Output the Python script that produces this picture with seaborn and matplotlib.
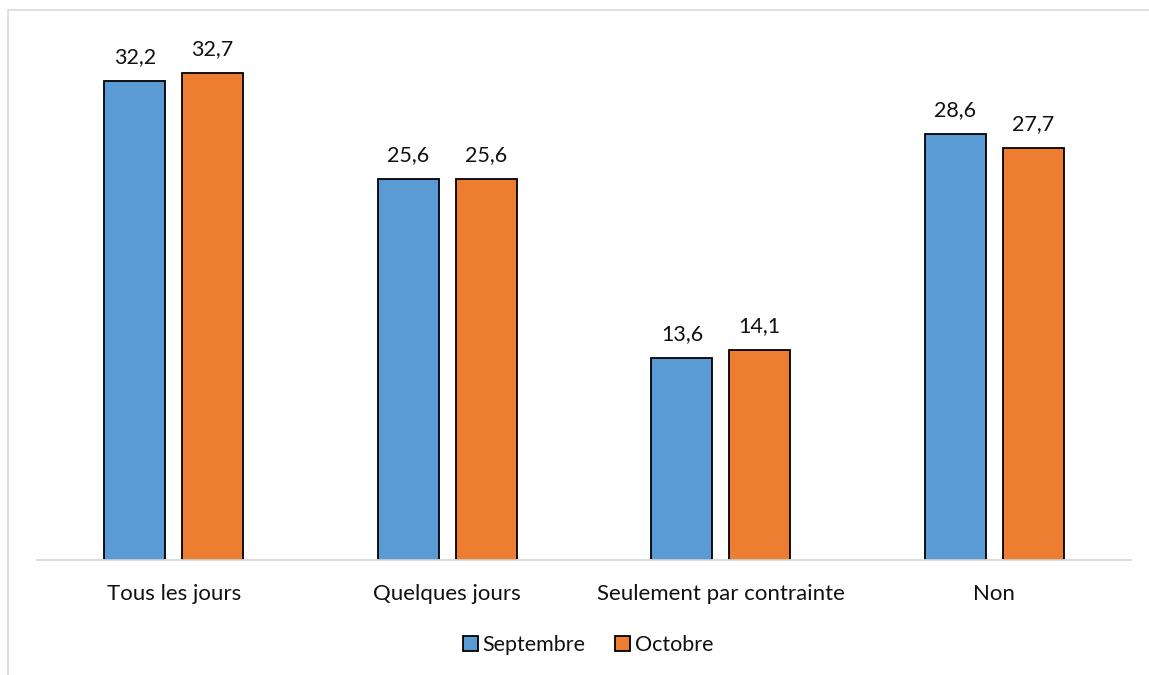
import pandas as pd
import matplotlib.pyplot as plt
import seaborn as sns
from matplotlib.lines import Line2D

# data
categories = ['Tous les jours', 'Quelques jours', 'Seulement par contrainte', 'Non']
septembre = [32.2, 25.6, 13.6, 28.6]
octobre = [32.7, 25.6, 14.1, 27.7]
series = ['Septembre', 'Octobre']
colors = ['#5B9BD5', '#ED7D31']

df = pd.DataFrame({
    'categorie': categories * 2,
    'mois': [series[0]] * 4 + [series[1]] * 4,
    'valeur': septembre + octobre,
})

sns.set_theme(style='white')
plt.rcParams['font.family'] = ['Lato', 'DejaVu Sans']

fig = plt.figure(figsize=(11.49, 6.75), dpi=100)
ax = fig.add_axes([37 / 1149, 115 / 675, 1094 / 1149, 521 / 675])

sns.barplot(data=df, x='categorie', y='valeur', hue='mois', order=categories,
            hue_order=series, palette=colors, saturation=1,
            width=0.567, gap=0.213, edgecolor='black', linewidth=1.3,
            legend=False, ax=ax)

ax.set_xlim(-0.5, 3.5)
ax.set_ylim(0, 35)
ax.set_xlabel('')
ax.set_ylabel('')
ax.set_yticks([])
for s in ['top', 'right', 'left']:
    ax.spines[s].set_visible(False)
ax.spines['bottom'].set_color('#D9D9D9')
ax.spines['bottom'].set_linewidth(1.3)
ax.tick_params(axis='x', length=0, pad=17, labelsize=16, colors='#111111')

# value labels with comma decimals
for cont in ax.containers:
    labs = [f"{b.get_height():.1f}".replace('.', ',') for b in cont]
    ax.bar_label(cont, labels=labs, padding=10, fontsize=15.5, color='#111111')

# legend at bottom
handles = [plt.Rectangle((0, 0), 1, 1, facecolor=c, edgecolor='black', linewidth=1.3)
           for c in colors]
fig.legend(handles, series, loc='center', bbox_to_anchor=(588 / 1149, 30 / 675),
           ncol=2, frameon=False, fontsize=15.5, handlelength=0.7, handleheight=0.7,
           handletextpad=0.2, columnspacing=1.4, labelcolor='#111111')

# light chart border (left and top)
fig.add_artist(Line2D([8 / 1149, 8 / 1149], [0, 665 / 675], transform=fig.transFigure,
                      color='#D9D9D9', linewidth=1.2))
fig.add_artist(Line2D([8 / 1149, 1], [665 / 675, 665 / 675], transform=fig.transFigure,
                      color='#D9D9D9', linewidth=1.2))

fig.savefig('out.png', dpi=100)
